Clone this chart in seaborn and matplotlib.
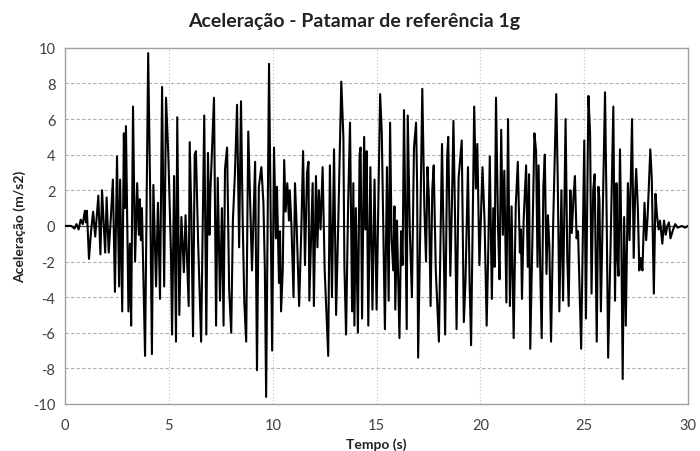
import matplotlib
matplotlib.use("Agg")
import matplotlib.pyplot as plt
import seaborn as sns
import pandas as pd

# Time (s) and acceleration (m/s2)
tempo = [
    0.0, 0.3, 0.45, 0.55, 0.65, 0.75, 0.85, 0.95, 1.0, 1.05, 1.15, 1.25, 1.35, 1.45, 1.6, 1.7, 1.78, 1.85, 1.93,
    2.0, 2.1, 2.2, 2.3, 2.4, 2.5, 2.6, 2.65, 2.75, 2.83, 2.88, 2.93, 3.05, 3.12, 3.18, 3.27, 3.37, 3.47, 3.55,
    3.6, 3.65, 3.7, 3.85, 4.0, 4.1, 4.18, 4.25, 4.38, 4.47, 4.57, 4.67, 4.77, 4.86, 4.97, 5.1, 5.15, 5.25, 5.34,
    5.4, 5.5, 5.6, 5.72, 5.8, 5.95, 6.0, 6.08, 6.16, 6.24, 6.3, 6.4, 6.55, 6.7, 6.8, 6.88, 6.95, 7.0, 7.17, 7.27,
    7.35, 7.46, 7.55, 7.63, 7.7, 7.8, 7.9, 8.0, 8.08, 8.18, 8.28, 8.38, 8.47, 8.55, 8.63, 8.72, 8.82, 8.92, 9.0,
    9.15, 9.24, 9.33, 9.45, 9.55, 9.62, 9.68, 9.77, 9.82, 9.9, 9.97, 10.06, 10.15, 10.2, 10.3, 10.35, 10.4, 10.48,
    10.55, 10.62, 10.7, 10.78, 10.82, 10.9, 11.0, 11.07, 11.15, 11.27, 11.38, 11.46, 11.55, 11.65, 11.72, 11.76,
    11.86, 11.92, 11.98, 12.08, 12.15, 12.22, 12.3, 12.4, 12.5, 12.67, 12.75, 12.85, 12.95, 13.05, 13.15, 13.3,
    13.4, 13.45, 13.53, 13.63, 13.72, 13.82, 13.88, 13.93, 14.0, 14.1, 14.18, 14.23, 14.3, 14.4, 14.46, 14.52,
    14.6, 14.7, 14.8, 14.9, 15.0, 15.17, 15.25, 15.4, 15.5, 15.58, 15.65, 15.72, 15.8, 15.86, 15.9, 15.98, 16.1,
    16.18, 16.25, 16.32, 16.45, 16.5, 16.6, 16.7, 16.8, 16.9, 16.95, 17.0, 17.1, 17.2, 17.3, 17.38, 17.45, 17.52,
    17.6, 17.68, 17.75, 17.85, 18.0, 18.15, 18.3, 18.4, 18.45, 18.55, 18.62, 18.7, 18.78, 18.85, 18.95, 19.1,
    19.2, 19.28, 19.4, 19.48, 19.55, 19.7, 19.78, 19.85, 19.95, 20.1, 20.2, 20.3, 20.38, 20.45, 20.55, 20.62,
    20.68, 20.75, 20.85, 20.92, 21.0, 21.08, 21.15, 21.25, 21.33, 21.42, 21.5, 21.6, 21.7, 21.8, 21.9, 21.95,
    22.0, 22.08, 22.2, 22.28, 22.34, 22.4, 22.6, 22.68, 22.75, 22.8, 22.88, 22.95, 23.03, 23.1, 23.18, 23.25,
    23.32, 23.4, 23.5, 23.65, 23.72, 23.8, 23.9, 23.98, 24.1, 24.18, 24.25, 24.33, 24.4, 24.48, 24.55, 24.63,
    24.7, 24.85, 25.0, 25.08, 25.15, 25.2, 25.28, 25.35, 25.43, 25.5, 25.6, 25.68, 25.73, 25.8, 26.0, 26.08,
    26.15, 26.28, 26.4, 26.48, 26.55, 26.6, 26.65, 26.72, 26.78, 26.85, 26.92, 27.0, 27.1, 27.18, 27.3, 27.38,
    27.45, 27.5, 27.58, 27.65, 27.72, 27.8, 27.9, 27.98, 28.05, 28.18, 28.25, 28.35, 28.43, 28.5, 28.58, 28.65,
    28.76, 28.84, 28.92, 29.0, 29.08, 29.15, 29.28, 29.38, 29.5, 29.7, 29.85, 30.0,
]
aceleracao = [
    0.0, 0.0, -0.15, 0.1, -0.2, 0.35, 0.1, 0.85, 0.2, 0.85, -1.85, -0.3, 0.8, -0.6, 1.7, -1.6, 2.0, 0.3, -1.5,
    1.6, -1.5, 0.4, 2.6, -3.7, 3.9, -3.4, 2.6, -4.8, 5.2, 1.0, 5.6, -4.8, -1.0, -5.6, 6.7, -2.0, 2.4, -0.5,
    1.5, -0.8, 1.0, -7.3, 9.7, 1.6, -7.2, 2.3, -3.4, 1.3, -4.1, 7.8, -3.4, 7.2, 4.0, -1.6, -6.1, 2.8, -6.5,
    6.1, -5.0, 0.5, -2.6, 0.6, -4.5, 4.7, 0.6, -6.2, 4.0, 4.2, -0.7, -6.5, 6.2, -6.1, 4.1, -0.5, 2.0, 7.2, -5.6,
    2.7, -4.2, 1.0, -5.6, 3.2, 4.4, -3.6, -6.0, 0.3, 3.0, 6.8, -1.2, 7.0, 0.4, -4.3, -6.5, 5.3, 1.0, -2.5,
    3.6, -8.1, 2.2, 3.3, 1.3, -2.5, -9.6, 2.7, 9.1, 0.4, -7.0, 4.4, -0.7, 2.2, -3.2, -0.3, -4.8, -2.5,
    3.7, 0.8, 2.4, 0.3, 2.0, 0.0, -4.0, 2.4, 0.0, -4.5, 0.0, 4.2, -2.2, 3.0, 3.6, -4.2,
    -0.2, 2.4, -4.5, 2.8, -1.2, 2.0, -0.2, 3.3, -2.5, -7.3, 3.4, -4.0, 4.3, -5.0, 0.0, 8.1,
    5.0, -2.3, -6.1, 1.3, 5.8, -4.8, 2.4, -5.6, 1.0, -6.0, 4.0, 4.4, -5.2, 5.0, -0.2, 4.2,
    -5.6, 3.3, -4.7, 2.6, -4.7, 7.4, 5.2, -5.8, 3.3, -4.2, 5.8, -0.7, -2.5, 1.1, -4.7, 0.3, -6.3,
    -0.3, -2.2, 6.5, -5.8, 6.2, -0.3, -4.0, 4.4, 5.8, 2.4, -7.4, -0.3, 7.7, 1.0, -2.0, 3.3, 1.5,
    -4.5, 2.0, 3.4, -2.5, -6.5, 4.6, -6.1, 3.9, 5.0, -2.8, 0.8, 5.9, 0.3, -5.8, 2.7, 4.8,
    -5.4, -3.1, 3.3, -3.3, -6.7, 6.7, 2.1, 4.6, -2.2, 3.3, 0.2, -5.6, -1.2, 3.9, -4.1, 1.0,
    -2.3, 7.2, -0.2, -3.0, 5.4, -0.5, 3.1, -4.3, 6.0, -4.5, 1.1, -6.3, 1.1, 3.6, -1.5, -0.2,
    -4.1, 0.3, 3.4, -2.3, 2.9, -6.9, 5.2, 4.2, -2.3, 3.4, -2.5, -6.3, 2.2, 4.0, -2.7, 0.6,
    -1.2, -6.5, 0.0, 7.4, 2.8, -4.8, 2.0, -4.2, 6.0, -1.7, -4.5, 2.0, -0.4, 1.6, 2.8, -0.7,
    -0.3, -6.9, 4.8, -5.2, 2.4, 7.3, 5.2, -3.8, 2.0, 2.9, -6.5, 2.2, 1.5, -4.8, 7.5, 0.4,
    -7.4, -0.4, 6.7, -4.2, 2.4, -1.8, -2.8, 4.3, -0.2, -8.6, 0.5, -5.6, 2.4, -0.8, 6.0, -1.8,
    1.8, 3.2, 1.0, -2.5, -1.8, -2.5, 1.3, -0.8, 0.5, 4.3, 2.7, -3.8, 1.8, 0.6, -0.2, 0.3,
    -1.0, 0.3, -0.5, 0.0, 0.2, -0.7, -0.2, 0.1, -0.1, 0.0, -0.1, 0.0,
]

x_ticks = [0, 5, 10, 15, 20, 25, 30]
y_ticks = [-10, -8, -6, -4, -2, 0, 2, 4, 6, 8, 10]

df = pd.DataFrame({"Tempo (s)": tempo, "Aceleração (m/s2)": aceleracao})

sns.set_style("white")
plt.rcParams["font.family"] = ["Lato", "DejaVu Sans"]
plt.rcParams["axes.unicode_minus"] = False

fig = plt.figure(figsize=(7.0, 4.52), dpi=100)
ax = fig.add_axes([0.093, 0.104, 0.890, 0.788])

# grid lines
for yv in y_ticks:
    if yv in (-10, 10, 0):
        continue
    ax.axhline(yv, color="#b0b0b0", lw=0.8, ls=(0, (3, 2)), zorder=0)
for xv in x_ticks[1:-1]:
    ax.axvline(xv, color="#c0c0c0", lw=0.8, ls=(0, (1, 2)), zorder=0)
ax.axhline(0, color="#404040", lw=0.9, zorder=1)

sns.lineplot(data=df, x="Tempo (s)", y="Aceleração (m/s2)", ax=ax, color="black",
             lw=1.5, estimator=None, sort=False, zorder=3)

ax.set_xlim(0, 30)
ax.set_ylim(-10, 10)
ax.set_xticks(x_ticks)
ax.set_yticks(y_ticks)
ax.tick_params(axis="both", labelsize=10.5, colors="#404040", length=4, width=0.8,
               direction="out", pad=3)
ax.tick_params(axis="x", pad=6)
for sp in ax.spines.values():
    sp.set_color("#a0a0a0")
    sp.set_linewidth(1.0)

ax.set_xlabel("Tempo (s)", fontsize=10, fontweight="bold", color="#222222", labelpad=4)
ax.set_ylabel("Aceleração (m/s2)", fontsize=10, fontweight="bold", color="#222222", labelpad=5)
fig.suptitle("Aceleração - Patamar de referência 1g", x=0.506, y=0.972,
             fontsize=14, fontweight="bold", color="#222222")

fig.savefig("out.png", dpi=100)
